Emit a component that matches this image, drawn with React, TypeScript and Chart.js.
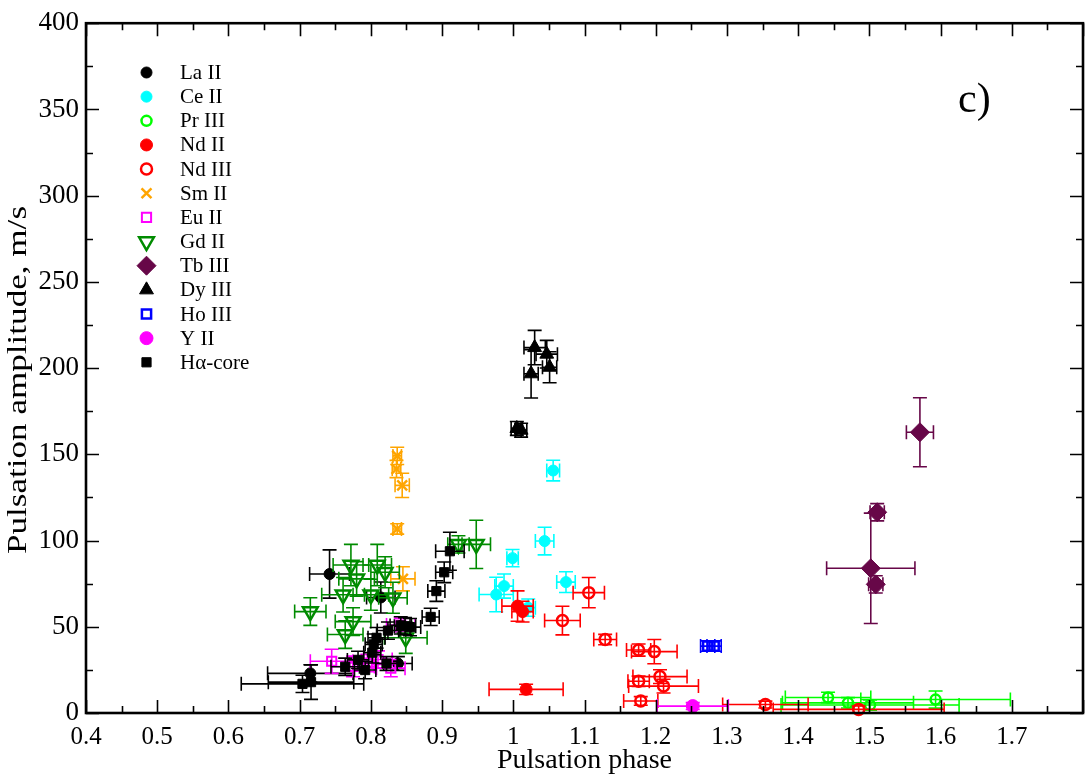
import React, { useEffect, useRef } from "react";
import { Chart, registerables } from "chart.js";
import { drawPoint } from "chart.js/helpers";

Chart.register(...registerables);

// [phase, amplitude, phase error, amplitude error]
type Pt = [number, number, number, number];

const LA_II: Pt[] = [
  [0.742, 80.6, 0.028, 14],
  [0.814, 67.0, 0.02, 9],
  [0.838, 28.7, 0.02, 4],
  [0.715, 23.0, 0.06, 5],
];
const CE_II: Pt[] = [
  [1.056, 140.6, 0.009, 6],
  [1.044, 99.7, 0.013, 8],
  [0.999, 89.8, 0.008, 5],
  [1.074, 75.9, 0.013, 6],
  [0.987, 73.6, 0.013, 7],
  [0.976, 68.7, 0.024, 10],
  [1.021, 61.1, 0.01, 5],
];
const PR_III: Pt[] = [
  [1.442, 9.0, 0.06, 3],
  [1.47, 5.9, 0.092, 3],
  [1.501, 4.6, 0.125, 3],
  [1.593, 7.8, 0.105, 5],
];
const ND_II: Pt[] = [
  [1.006, 62.0, 0.022, 8.8],
  [1.013, 58.8, 0.015, 6],
  [1.018, 13.7, 0.052, 3],
];
const ND_III: Pt[] = [
  [1.106, 69.8, 0.022, 8.8],
  [1.069, 53.6, 0.025, 8.3],
  [1.129, 42.6, 0.016, 3],
  [1.176, 36.5, 0.017, 3.5],
  [1.198, 35.6, 0.032, 7],
  [1.206, 21.1, 0.038, 4],
  [1.176, 18.4, 0.015, 3],
  [1.211, 15.6, 0.049, 4],
  [1.179, 7.0, 0.024, 2.5],
  [1.354, 4.9, 0.06, 2],
  [1.485, 2.1, 0.12, 2],
];
const SM_II: Pt[] = [
  [0.837, 149.1, 0.006, 5],
  [0.836, 141.5, 0.006, 5],
  [0.844, 132.0, 0.01, 7],
  [0.837, 106.7, 0.006, 3],
  [0.845, 77.8, 0.017, 7],
];
const EU_II: Pt[] = [
  [0.745, 30, 0.03, 7],
  [0.775, 27, 0.03, 6],
  [0.795, 29, 0.025, 5],
  [0.81, 31, 0.02, 5],
  [0.828, 26, 0.02, 5],
  [0.842, 51, 0.02, 4],
];
const GD_II: Pt[] = [
  [0.715, 58.8, 0.022, 8],
  [0.772, 85.8, 0.025, 12],
  [0.78, 77.8, 0.025, 10],
  [0.761, 68.6, 0.03, 10],
  [0.775, 53.0, 0.025, 8],
  [0.764, 45.5, 0.025, 8],
  [0.809, 85.8, 0.02, 12],
  [0.82, 81.6, 0.02, 9],
  [0.8, 68.6, 0.025, 9],
  [0.831, 66.8, 0.02, 9],
  [0.849, 43.6, 0.03, 9],
  [0.923, 97.8, 0.015, 5],
  [0.948, 97.8, 0.02, 14],
];
const TB_III: Pt[] = [
  [1.571, 162.8, 0.019, 20],
  [1.511, 116.4, 0.01, 5],
  [1.502, 83.9, 0.062, 32],
  [1.509, 74.6, 0.01, 5],
];
const DY_III: Pt[] = [
  [1.03, 211.9, 0.015, 10],
  [1.047, 208.1, 0.015, 8],
  [1.025, 196.7, 0.01, 14],
  [1.051, 200.5, 0.01, 9],
  [1.005, 165.0, 0.008, 4],
  [1.011, 164.0, 0.008, 4],
];
const HO_III: Pt[] = [
  [1.273, 38.8, 0.01, 3],
  [1.282, 38.8, 0.01, 3],
];
const Y_II: Pt[] = [[1.252, 4.0, 0.05, 2]];
const H_ALPHA: Pt[] = [
  [0.911, 93.8, 0.02, 11],
  [0.903, 81.6, 0.012, 6],
  [0.892, 70.7, 0.012, 6],
  [0.884, 55.7, 0.012, 5],
  [0.855, 49.8, 0.015, 5],
  [0.848, 50.3, 0.015, 5],
  [0.842, 50.8, 0.015, 5],
  [0.824, 47.8, 0.015, 5],
  [0.808, 43.6, 0.012, 6],
  [0.804, 39.8, 0.012, 6],
  [0.802, 35.0, 0.012, 6],
  [0.782, 30.8, 0.015, 5],
  [0.792, 24.9, 0.015, 5],
  [0.764, 26.8, 0.02, 5],
  [0.822, 28.7, 0.015, 4],
  [0.704, 16.9, 0.086, 5],
  [0.716, 17.9, 0.06, 10],
];

const X_MIN = 0.4;
const X_MAX = 1.8;
const X_STEP = 0.1;
const Y_MIN = 0;
const Y_MAX = 400;
const Y_STEP = 50;

const X_TITLE = "Pulsation phase";
const Y_TITLE = "Pulsation amplitude, m/s";
const PANEL_LABEL = "c)";

const FONT = "'Liberation Serif', 'DejaVu Serif', serif";

type Style = {
  label: string;
  data: Pt[];
  color: string;
  shape: string;
  rotation: number;
  r: number;
  filled: boolean;
  lw: number;
};

const SERIES: Style[] = [
  { label: "La II", data: LA_II, color: "#000000", shape: "circle", rotation: 0, r: 5.5, filled: true, lw: 1 },
  { label: "Ce II", data: CE_II, color: "#00ffff", shape: "circle", rotation: 0, r: 5.5, filled: true, lw: 1 },
  { label: "Pr III", data: PR_III, color: "#00ff00", shape: "circle", rotation: 0, r: 5, filled: false, lw: 2.5 },
  { label: "Nd II", data: ND_II, color: "#ff0000", shape: "circle", rotation: 0, r: 6, filled: true, lw: 1 },
  { label: "Nd III", data: ND_III, color: "#ff0000", shape: "circle", rotation: 0, r: 5.5, filled: false, lw: 2.5 },
  { label: "Sm II", data: SM_II, color: "#ffa500", shape: "crossRot", rotation: 0, r: 7, filled: false, lw: 2.5 },
  { label: "Eu II", data: EU_II, color: "#ff00ff", shape: "rect", rotation: 0, r: 6.5, filled: false, lw: 2 },
  { label: "Gd II", data: GD_II, color: "#008b00", shape: "triangle", rotation: 180, r: 8.5, filled: false, lw: 2.5 },
  { label: "Tb III", data: TB_III, color: "#670748", shape: "rectRot", rotation: 0, r: 9.5, filled: true, lw: 1 },
  { label: "Dy III", data: DY_III, color: "#000000", shape: "triangle", rotation: 0, r: 8, filled: true, lw: 1 },
  { label: "Ho III", data: HO_III, color: "#0000ff", shape: "rect", rotation: 0, r: 6.5, filled: false, lw: 2.5 },
  { label: "Y II", data: Y_II, color: "#ff00ff", shape: "circle", rotation: 0, r: 6.5, filled: true, lw: 1 },
  { label: "H\u03b1-core", data: H_ALPHA, color: "#000000", shape: "rect", rotation: 0, r: 6.5, filled: true, lw: 1 },
];

const errorBarPlugin = {
  id: "errorBars",
  beforeDatasetDraw(chart: any, args: any) {
    const s = SERIES[args.index];
    if (!s) return;
    const { ctx, chartArea } = chart;
    const xs = chart.scales.x;
    const ys = chart.scales.y;
    ctx.save();
    ctx.beginPath();
    ctx.rect(chartArea.left, chartArea.top, chartArea.right - chartArea.left, chartArea.bottom - chartArea.top);
    ctx.clip();
    ctx.strokeStyle = s.color;
    ctx.lineWidth = 1.6;
    const cap = 7;
    s.data.forEach(([vx, vy, ex, ey]) => {
      const px = xs.getPixelForValue(vx);
      const py = ys.getPixelForValue(vy);
      const x1 = xs.getPixelForValue(vx - ex);
      const x2 = xs.getPixelForValue(vx + ex);
      const y1 = ys.getPixelForValue(vy - ey);
      const y2 = ys.getPixelForValue(vy + ey);
      ctx.beginPath();
      ctx.moveTo(x1, py);
      ctx.lineTo(x2, py);
      ctx.moveTo(x1, py - cap);
      ctx.lineTo(x1, py + cap);
      ctx.moveTo(x2, py - cap);
      ctx.lineTo(x2, py + cap);
      ctx.moveTo(px, y1);
      ctx.lineTo(px, y2);
      ctx.moveTo(px - cap, y1);
      ctx.lineTo(px + cap, y1);
      ctx.moveTo(px - cap, y2);
      ctx.lineTo(px + cap, y2);
      ctx.stroke();
    });
    ctx.restore();
  },
};

const framePlugin = {
  id: "frameTicks",
  afterDraw(chart: any) {
    const { ctx, chartArea } = chart;
    const { left, right, top, bottom } = chartArea;
    const xs = chart.scales.x;
    const ys = chart.scales.y;
    ctx.save();
    ctx.strokeStyle = "#000";
    ctx.lineWidth = 1.6;
    const major = 13;
    const minor = 7;
    ctx.beginPath();
    for (let i = 0; i <= Math.round((X_MAX - X_MIN) / (X_STEP / 2)); i++) {
      const v = X_MIN + (i * X_STEP) / 2;
      const px = Math.round(xs.getPixelForValue(v)) + 0.5;
      const len = i % 2 === 0 ? major : minor;
      ctx.moveTo(px, bottom);
      ctx.lineTo(px, bottom - len);
      ctx.moveTo(px, top);
      ctx.lineTo(px, top + len);
    }
    for (let i = 0; i <= Math.round((Y_MAX - Y_MIN) / (Y_STEP / 2)); i++) {
      const v = Y_MIN + (i * Y_STEP) / 2;
      const py = Math.round(ys.getPixelForValue(v)) + 0.5;
      const len = i % 2 === 0 ? major : minor;
      ctx.moveTo(left, py);
      ctx.lineTo(left + len, py);
      ctx.moveTo(right, py);
      ctx.lineTo(right - len, py);
    }
    ctx.stroke();
    ctx.lineWidth = 2.6;
    ctx.strokeRect(left, top, right - left, bottom - top);

    ctx.fillStyle = "#000";

    // y axis title (stretched along its length like the reference)
    ctx.save();
    ctx.font = `27px ${FONT}`;
    ctx.textAlign = "center";
    ctx.textBaseline = "middle";
    ctx.translate(19, 380);
    ctx.rotate(-Math.PI / 2);
    ctx.scale(1.3, 1);
    ctx.fillText(Y_TITLE, 0, 0);
    ctx.restore();

    // panel label
    ctx.font = `42px ${FONT}`;
    ctx.textBaseline = "middle";
    ctx.textAlign = "left";
    ctx.fillText(PANEL_LABEL, 958, 101);

    // legend
    ctx.font = `21px ${FONT}`;
    SERIES.forEach((s, i) => {
      const ly = 72.5 + i * 24.15;
      ctx.fillStyle = s.filled ? s.color : "rgba(0,0,0,0)";
      ctx.strokeStyle = s.color;
      ctx.lineWidth = s.lw;
      drawPoint(ctx, { pointStyle: s.shape, rotation: s.rotation, radius: s.r, borderWidth: s.lw } as any, 146.5, ly);
      ctx.fillStyle = "#000";
      ctx.fillText(s.label, 180, ly + 1);
    });
    ctx.restore();
  },
};

export default function App() {
  const ref = useRef<HTMLCanvasElement | null>(null);
  useEffect(() => {
    if (!ref.current) return;
    const datasets = SERIES.map((s, i) => ({
      label: s.label,
      data: s.data.map((p) => ({ x: p[0], y: p[1] })),
      pointStyle: s.shape,
      pointRotation: s.rotation,
      pointRadius: s.r,
      pointHoverRadius: s.r,
      backgroundColor: s.filled ? s.color : "rgba(0,0,0,0)",
      borderColor: s.color,
      borderWidth: s.lw,
      showLine: false,
      order: SERIES.length - i,
      clip: false as any,
    }));
    const chart = new Chart(ref.current, {
      type: "scatter",
      data: { datasets },
      options: {
        responsive: false,
        animation: false,
        events: [],
        layout: { autoPadding: false, padding: { top: 12, right: 4, left: 0, bottom: 0 } } as any,
        plugins: { legend: { display: false }, tooltip: { enabled: false } },
        scales: {
          x: {
            type: "linear",
            min: X_MIN,
            max: X_MAX,
            grid: { display: false, drawTicks: false },
            border: { display: false },
            ticks: {
              stepSize: X_STEP,
              color: "#000",
              font: { family: FONT, size: 25 },
              padding: 9,
              maxRotation: 0,
              autoSkip: false,
              callback: (v: any) => {
                const n = Number(v);
                if (n > X_MAX - 0.05) return "";
                return String(Number(n.toFixed(1)));
              },
            },
            title: {
              display: true,
              text: X_TITLE,
              color: "#000",
              font: { family: FONT, size: 28 },
              padding: { top: 0, bottom: 0 },
            },
            afterFit: (scale: any) => {
              scale.height = 64;
            },
          },
          y: {
            type: "linear",
            min: Y_MIN,
            max: Y_MAX,
            grid: { display: false, drawTicks: false },
            border: { display: false },
            ticks: {
              stepSize: Y_STEP,
              color: "#000",
              font: { family: FONT, size: 27 },
              padding: 7,
            },
            title: { display: false },
            afterFit: (scale: any) => {
              scale.width = 86;
            },
          },
        },
      } as any,
      plugins: [errorBarPlugin, framePlugin],
    });
    return () => chart.destroy();
  }, []);
  return (
    <div style={{ position: "fixed", left: 0, top: 0, width: 1092, height: 777, background: "#fff" }}>
      <canvas ref={ref} width={1092} height={777} style={{ display: "block" }} />
    </div>
  );
}
